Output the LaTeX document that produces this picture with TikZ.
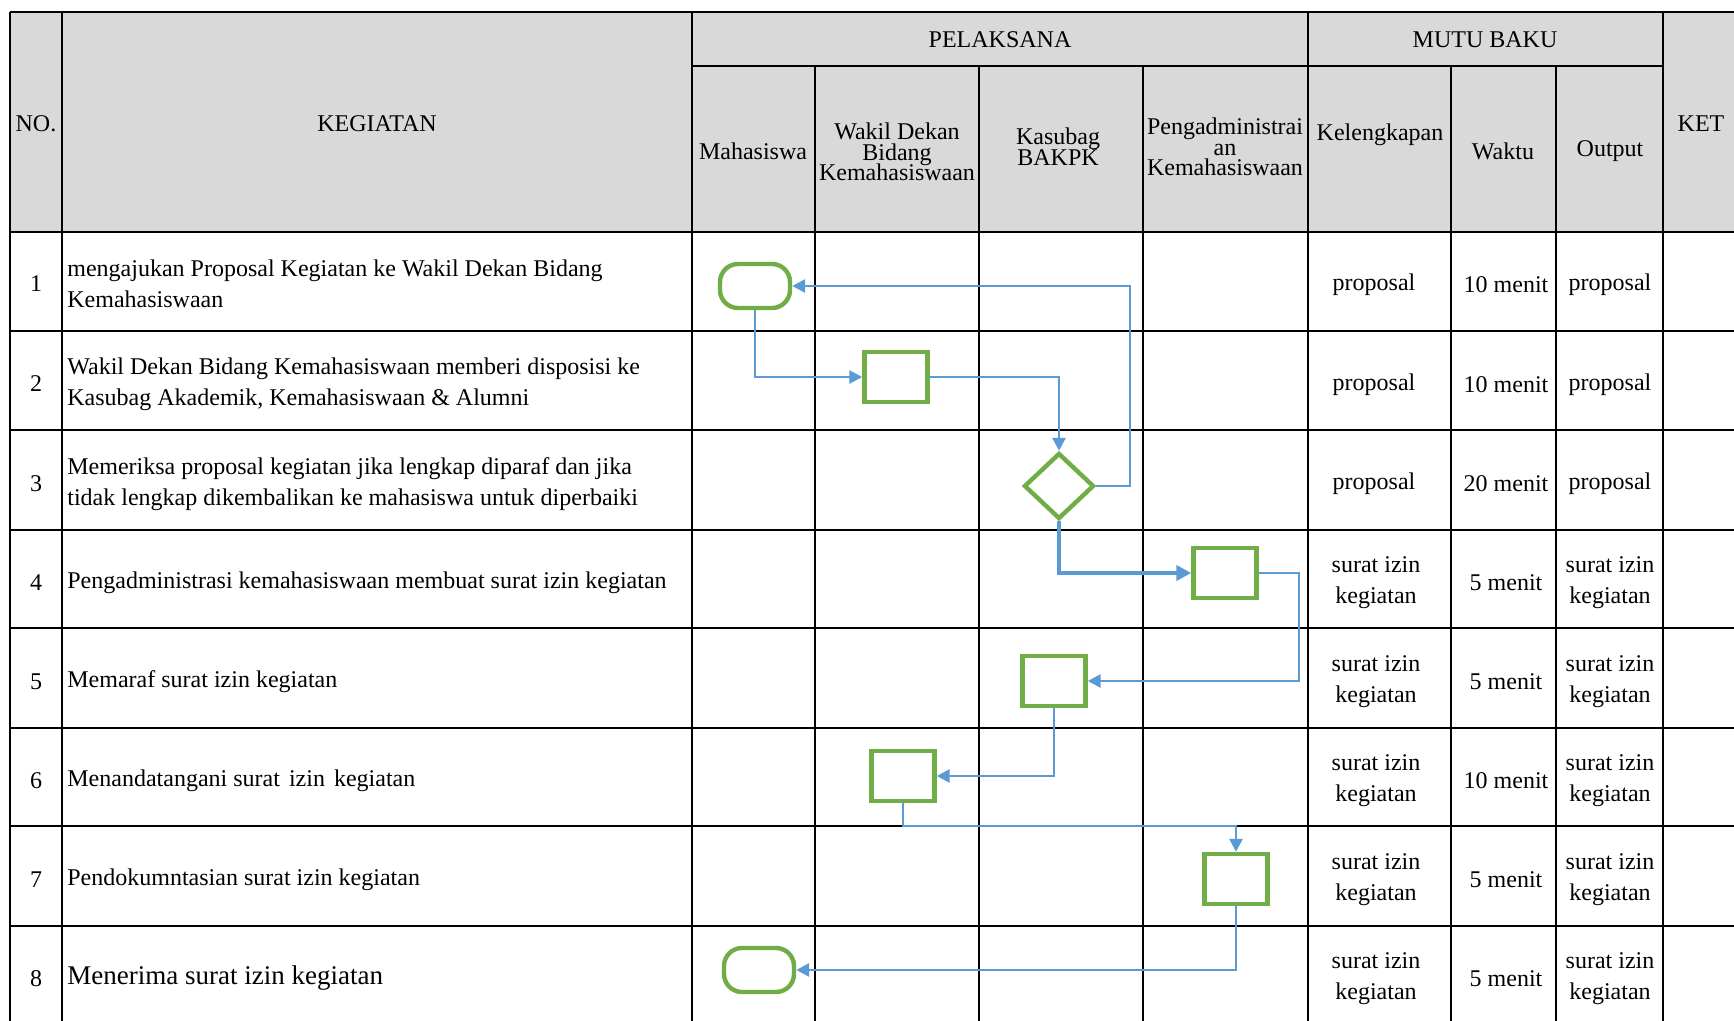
\documentclass[tikz,border=0pt]{standalone}
\usepackage{fontspec}
\setmainfont{Liberation Serif}
\usetikzlibrary{shapes.geometric,arrows.meta}
\definecolor{hdrgray}{HTML}{D9D9D9}
\definecolor{flowgreen}{HTML}{70AD47}
\definecolor{flowblue}{HTML}{5B9BD5}
\newcommand{\myhdrfont}{\fontsize{12}{10.3}\selectfont\lineskiplimit=-20pt\relax}
\tikzset{
  grid/.style={line width=1.3pt, black},
  hdr/.style={font=\myhdrfont, align=center, inner sep=0pt},
  body/.style={font=\fontsize{12}{15.5}\selectfont, align=left, anchor=west, inner sep=0pt},
  cell/.style={font=\fontsize{12}{15.5}\selectfont, align=center, inner sep=0pt},
  procbox/.style={draw=flowgreen, line width=2.2pt, minimum width=31.5pt, minimum height=25pt, inner sep=0pt},
  termbox/.style={draw=flowgreen, line width=2.2pt, rounded corners=9pt, minimum width=35pt, minimum height=22pt, inner sep=0pt},
  decbox/.style={draw=flowgreen, line width=2.2pt, diamond, minimum width=35pt, minimum height=33pt, inner sep=0pt},
  flow/.style={draw=flowblue, line width=1.4pt, -{Triangle[length=6.5pt,width=6.5pt]}},
  flowthick/.style={draw=flowblue, line width=2.4pt, -{Triangle[length=7.5pt,width=7.5pt]}}
}
\begin{document}
\begin{tikzpicture}[x=0.5pt,y=-0.5pt]
\useasboundingbox (0,0) rectangle (1734,1021);
% header background
\fill[hdrgray] (10,12) rectangle (1734,232);
% horizontal grid lines
\foreach \yy in {12,232,331,430,530,628,728,826,926}
  \draw[grid] (10,\yy) -- (1734,\yy);
\draw[grid] (692,66) -- (1663,66);
% vertical grid lines
\foreach \xx in {10,62,692,1308,1663}
  \draw[grid] (\xx,12) -- (\xx,1021);
\foreach \xx in {815,979,1143,1451,1556}
  \draw[grid] (\xx,66) -- (\xx,1021);
% header texts
\node[hdr] (hno) at (36,124) {NO.};
\node[hdr] (hkeg) at (377,124) {KEGIATAN};
\node[hdr] (hpel) at (1000,40) {PELAKSANA};
\node[hdr] (hmutu) at (1485,40) {MUTU BAKU};
\node[hdr] (hket) at (1701,124) {KET};
\node[hdr] (hmhs) at (753,151) {Mahasiswa};
\node[hdr] (hwd) at (897,152) {Wakil Dekan\\Bidang\\Kemahasiswaan};
\node[hdr] (hkas) at (1058,147) {Kasubag\\BAKPK};
\node[hdr] (hpeng) at (1225,147) {Pengadministrai\\an\\Kemahasiswaan};
\node[hdr] (hkel) at (1380,135) {Kelengkapan};
\node[hdr] (hwak) at (1503,151) {Waktu};
\node[hdr] (hout) at (1610,151) {Output};
% numbers
\foreach \n/\yy in {1/284,2/384,3/484,4/583,5/682,6/781,7/880,8/979}
  \node[cell] (no\n) at (36,\yy) {\n};
% activity texts
\node[body] (k1) at (67,284) {mengajukan Proposal Kegiatan ke Wakil Dekan Bidang\\Kemahasiswaan};
\node[body] (k2) at (67,384) {Wakil Dekan Bidang Kemahasiswaan memberi disposisi ke\\Kasubag Akademik, Kemahasiswaan \& Alumni};
\node[body] (k3) at (67,484) {Memeriksa proposal kegiatan jika lengkap diparaf dan jika\\tidak lengkap dikembalikan ke mahasiswa untuk diperbaiki};
\node[body] (k4) at (67,583) {Pengadministrasi kemahasiswaan membuat surat izin kegiatan};
\node[body] (k5) at (67,682) {Memaraf surat izin kegiatan};
\node[body] (k6) at (67,781) {Menandatangani surat\hspace{1.5pt} izin\hspace{1.5pt} kegiatan};
\node[body] (k7) at (67,880) {Pendokumntasian surat izin kegiatan};
\node[body, font=\fontsize{13.5}{16}\selectfont] (k8) at (67,978) {Menerima surat izin kegiatan};
% mutu baku
\foreach \n/\yy in {1/285,2/385,3/484}{
  \node[cell] (kel\n) at (1374,\yy) {proposal};
  \node[cell] (out\n) at (1610,\yy) {proposal};
}
\node[cell] (wak1) at (1506,285) {10 menit};
\node[cell] (wak2) at (1506,385) {10 menit};
\node[cell] (wak3) at (1506,484) {20 menit};
\foreach \n/\yy in {4/583,5/682,6/781,7/880,8/979}{
  \node[cell] (kel\n) at (1376,\yy) {surat izin\\kegiatan};
  \node[cell] (out\n) at (1610,\yy) {surat izin\\kegiatan};
}
\node[cell] (wak4) at (1506,583) {5 menit};
\node[cell] (wak5) at (1506,682) {5 menit};
\node[cell] (wak6) at (1506,781) {10 menit};
\node[cell] (wak7) at (1506,880) {5 menit};
\node[cell] (wak8) at (1506,979) {5 menit};
% flow shapes
\node[termbox] (t1) at (755,286) {};
\node[procbox] (p2) at (896,377) {};
\node[decbox] (d3) at (1059,486) {};
\node[procbox] (p4) at (1225,573) {};
\node[procbox] (p5) at (1054,681) {};
\node[procbox] (p6) at (903,776) {};
\node[procbox] (p7) at (1236,879) {};
\node[termbox] (t8) at (759,970) {};
\coordinate (r1) at (1130,400);
\coordinate (r2) at (1299,620);
\coordinate (r3) at (1000,826);
% connectors
\draw[flow] (t1.south) |- (p2.west);
\draw[flow] (p2.east) -| (d3.north);
\draw[flow] (d3.east) -| (r1) |- (t1.east);
\draw[flowthick] (d3.south) |- (p4.west);
\draw[flow] (p4.east) -| (r2) |- (p5.east);
\draw[flow] (p5.south) |- (p6.east);
\draw[flow] (p6.south) |- (r3) -| (p7.north);
\draw[flow] (p7.south) |- (t8.east);
\end{tikzpicture}
\end{document}
